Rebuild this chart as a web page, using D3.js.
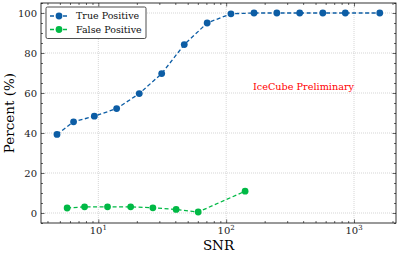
<!DOCTYPE html>
<html>
<head>
<meta charset="utf-8">
<script src="https://cdn.jsdelivr.net/npm/d3@7"></script>
<style>
  body { margin: 0; background: #fff; }
  svg { display: block; font-family: "DejaVu Serif", serif; }
</style>
</head>
<body>
<div id="chart"></div>
<script>
// Values
const tpSnr = [4.75, 6.4, 9.3, 13.9, 20.9, 31.3, 47, 71, 109, 165, 249, 376, 570, 855, 1590];
const tpPct = [39.3, 45.6, 48.4, 52.2, 59.7, 69.7, 84.2, 95.0, 99.6, 100, 100, 100, 100, 100, 100];
const fpSnr = [5.7, 7.8, 11.8, 17.9, 26.7, 40.6, 60.4, 140.6];
const fpPct = [2.5, 3.1, 3.1, 3.1, 2.6, 1.8, 0.5, 10.9];
const yTicks = [0, 20, 40, 60, 80, 100];
const xTicks = [10, 100, 1000];
const seriesNames = ['True Positive', 'False Positive'];
const colors = ['#0C5DA5', '#00B945'];

const W = 399, H = 255;
const margin = { top: 3, right: 3, bottom: 32, left: 41 };
const width = W - margin.left - margin.right;
const height = H - margin.top - margin.bottom;

const svg = d3.select('#chart').append('svg')
    .attr('width', W)
    .attr('height', H);

const g = svg.append('g')
    .attr('transform', `translate(${margin.left},${margin.top})`);

const x = d3.scaleLog().domain([3.56, 2130]).range([0, width]);
const y = d3.scaleLinear().domain([-5, 105]).range([height, 0]);

// minor ticks
const xMinor = [];
for (let p = 0; p <= 3; p++) {
    for (let k = 2; k <= 9; k++) {
        const v = k * Math.pow(10, p);
        if (v >= 3.56 && v <= 2130) xMinor.push(v);
    }
}
const yMinor = d3.range(-5, 106, 5).filter(v => v % 20 !== 0);

// grid
g.selectAll('.gx').data(xTicks).enter().append('line')
    .attr('x1', d => x(d)).attr('x2', d => x(d))
    .attr('y1', 0).attr('y2', height)
    .attr('stroke', '#bbb').attr('stroke-width', 0.6).attr('stroke-dasharray', '1,1');
g.selectAll('.gy').data(yTicks).enter().append('line')
    .attr('x1', 0).attr('x2', width)
    .attr('y1', d => y(d)).attr('y2', d => y(d))
    .attr('stroke', '#bbb').attr('stroke-width', 0.6).attr('stroke-dasharray', '1,1');

// axes with inward ticks on all four sides
function styleAxis(sel) {
    sel.select('.domain').remove();
    sel.selectAll('line').attr('stroke', '#000').attr('stroke-width', 0.6);
}
const majorLen = 3.5, minorLen = 2;

g.append('g').attr('transform', `translate(0,${height})`)
    .call(d3.axisBottom(x).tickValues(xTicks).tickSize(-majorLen).tickFormat(''))
    .call(styleAxis);
g.append('g').attr('transform', `translate(0,${height})`)
    .call(d3.axisBottom(x).tickValues(xMinor).tickSize(-minorLen).tickFormat(''))
    .call(styleAxis);
g.append('g')
    .call(d3.axisTop(x).tickValues(xTicks).tickSize(-majorLen).tickFormat(''))
    .call(styleAxis);
g.append('g')
    .call(d3.axisTop(x).tickValues(xMinor).tickSize(-minorLen).tickFormat(''))
    .call(styleAxis);
g.append('g')
    .call(d3.axisLeft(y).tickValues(yTicks).tickSize(-majorLen).tickFormat(''))
    .call(styleAxis);
g.append('g')
    .call(d3.axisLeft(y).tickValues(yMinor).tickSize(-minorLen).tickFormat(''))
    .call(styleAxis);
g.append('g').attr('transform', `translate(${width},0)`)
    .call(d3.axisRight(y).tickValues(yTicks).tickSize(-majorLen).tickFormat(''))
    .call(styleAxis);
g.append('g').attr('transform', `translate(${width},0)`)
    .call(d3.axisRight(y).tickValues(yMinor).tickSize(-minorLen).tickFormat(''))
    .call(styleAxis);

// frame
g.append('rect')
    .attr('width', width).attr('height', height)
    .attr('fill', 'none').attr('stroke', '#000').attr('stroke-width', 0.8);

// tick labels
g.selectAll('.ylab').data(yTicks).enter().append('text')
    .attr('x', -4).attr('y', d => y(d)).attr('dy', '0.35em')
    .attr('text-anchor', 'end').attr('font-size', 10).attr('fill', '#222')
    .text(d => d);
const xl = g.selectAll('.xlab').data(xTicks).enter().append('text')
    .attr('x', d => x(d)).attr('y', height + 11)
    .attr('text-anchor', 'middle').attr('font-size', 10).attr('fill', '#222');
xl.append('tspan').text('10');
xl.append('tspan').attr('dy', -4).attr('font-size', 7).text(d => Math.round(Math.log10(d)));

// axis titles
svg.append('text')
    .attr('x', margin.left + width / 2).attr('y', 250)
    .attr('text-anchor', 'middle').attr('font-size', 13.5)
    .text('SNR');
svg.append('text')
    .attr('transform', `translate(14,${margin.top + height / 2}) rotate(-90)`)
    .attr('text-anchor', 'middle').attr('font-size', 13.5)
    .text('Percent (%)');

// series
const series = [
    { name: seriesNames[0], color: colors[0], pts: tpSnr.map((s, i) => [s, tpPct[i]]) },
    { name: seriesNames[1], color: colors[1], pts: fpSnr.map((s, i) => [s, fpPct[i]]) }
];
const line = d3.line().x(d => x(d[0])).y(d => y(d[1]));

series.forEach(s => {
    g.append('path')
        .attr('d', line(s.pts))
        .attr('fill', 'none').attr('stroke', s.color)
        .attr('stroke-width', 1.3).attr('stroke-dasharray', '4,2.5');
    g.selectAll(null).data(s.pts).enter().append('circle')
        .attr('cx', d => x(d[0])).attr('cy', d => y(d[1]))
        .attr('r', 3.4).attr('fill', s.color);
});

// annotation
g.append('text')
    .attr('x', 303.5 - margin.left).attr('y', 90 - margin.top)
    .attr('text-anchor', 'middle').attr('font-size', 9.7).attr('fill', '#ff0000')
    .text('IceCube Preliminary');

// legend
const leg = svg.append('g').attr('transform', 'translate(46,7)');
leg.append('rect')
    .attr('width', 100).attr('height', 31.5).attr('rx', 1.5)
    .attr('fill', '#fff').attr('stroke', '#222').attr('stroke-width', 0.8);
series.forEach((s, i) => {
    const ly = 9 + i * 13.5;
    leg.append('line')
        .attr('x1', 4).attr('x2', 22).attr('y1', ly).attr('y2', ly)
        .attr('stroke', s.color).attr('stroke-width', 1.3).attr('stroke-dasharray', '4,2.5');
    leg.append('circle').attr('cx', 13).attr('cy', ly).attr('r', 3.4).attr('fill', s.color);
    leg.append('text')
        .attr('x', 30).attr('y', ly).attr('dy', '0.35em')
        .attr('font-size', 9.5).attr('fill', '#111')
        .text(s.name);
});
</script>
</body>
</html>
